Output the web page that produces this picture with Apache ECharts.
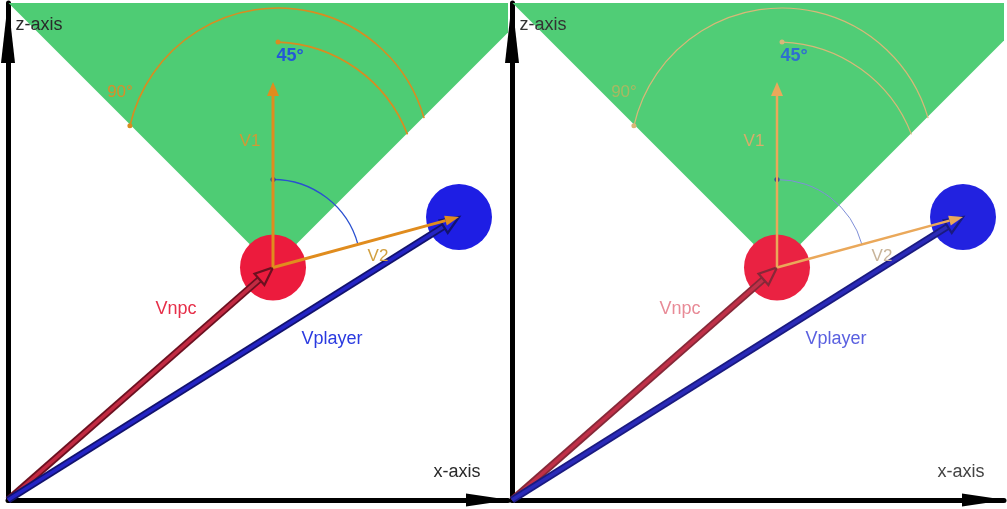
<!DOCTYPE html>
<html>
<head>
<meta charset="utf-8">
<script src="https://cdn.jsdelivr.net/npm/echarts@6/dist/echarts.min.js"></script>
<style>
  html, body { margin: 0; padding: 0; background: #fff; }
  #main { width: 1007px; height: 509px; }
</style>
</head>
<body>
<div id="main"></div>
<script>
// scene points, in axis units (x to the right, z up)
const origin = [0, 0];
const npc = [53, 46.5];
const player = [90.2, 56.6];
const v1Tip = [53, 83.6];
const coneHalfAngle = 45; // degrees each side of V1
const coneReach = 120;

// vectors
const vectorNames = ['Vnpc', 'Vplayer', 'V1', 'V2'];
const vectorFrom = [origin, origin, npc, npc];
const vectorTo = [npc, player, v1Tip, player];

// angle arcs: centre, radius, start and end angle (degrees)
const arcNames = ['90', '45', 'view'];
const arcCentres = [[54, 68], [53, 62.8], npc];
const arcRadii = [30.4, 28.8, 17.6];
const arcStart = [167, 88, 90];
const arcEnd = [16, 21, angleOf(npc, player)];

// texts
const labelText = ['z-axis', 'x-axis', '90°', '45°', 'V1', 'V2', 'Vnpc', 'Vplayer'];
const labelAt = [[6.2, 95], [89.8, 5.6], [22.4, 81.6], [56.4, 88.8], [48.4, 71.8], [74, 48.8], [33.6, 38.2], [64.8, 32.2]];

function angleOf(a, b) {
  return Math.atan2(b[1] - a[1], b[0] - a[0]) * 180 / Math.PI;
}

// left picture is crisp, right one is the washed out copy
const palettes = [
  {
    green: '#4ecc74', red: '#ec1b3d', blue: '#1e1ee4',
    orange: '#e08c1e', orangeWidth: 3,
    arc: '#d98c20', arcWidth: 1.6, viewArc: '#2a50d0', viewWidth: 1.3,
    npcOuter: '#6c1020', npcInner: '#c22a42',
    playerOuter: '#12126e', playerInner: '#2424c4',
    text: {
      'z-axis': '#2a2a2a', 'x-axis': '#2a2a2a', '90°': '#d88e2a', '45°': '#2458d8',
      'V1': '#cf9a36', 'V2': '#d2a040', 'Vnpc': '#e62e48', 'Vplayer': '#2a3ae0'
    }
  },
  {
    green: '#50cd76', red: '#ea2242', blue: '#2222e0',
    orange: '#eaa85a', orangeWidth: 2.5,
    arc: '#d8b878', arcWidth: 1.2, viewArc: '#7f8fd8', viewWidth: 1,
    npcOuter: '#862838', npcInner: '#c03048',
    playerOuter: '#1a1a80', playerInner: '#2a2ab8',
    text: {
      'z-axis': '#333', 'x-axis': '#444', '90°': '#a8b862', '45°': '#2f6fd0',
      'V1': '#d8ad6a', 'V2': '#c8b49a', 'Vnpc': '#e88a96', 'Vplayer': '#5a60e0'
    }
  }
];

const panels = [
  { left: 8, width: 500, xMax: 100 },
  { left: 512, width: 492, xMax: 98.4 }
];

function headPoints(p0, p1, len, wid) {
  const dx = p1[0] - p0[0], dy = p1[1] - p0[1];
  const l = Math.hypot(dx, dy), ux = dx / l, uy = dy / l;
  const base = [p1[0] - ux * len, p1[1] - uy * len];
  return {
    base: base,
    pts: [p1, [base[0] - uy * wid / 2, base[1] + ux * wid / 2], [base[0] + uy * wid / 2, base[1] - ux * wid / 2]]
  };
}

function axisStyle(size) {
  return {
    show: true,
    onZero: false,
    symbol: ['none', 'triangle'],
    symbolSize: size,
    symbolOffset: [0, -size[1] / 2 + 2],
    lineStyle: { color: '#000', width: 5 }
  };
}

const grid = [], xAxis = [], yAxis = [], series = [];

panels.forEach(function (p, i) {
  const pal = palettes[i];
  grid.push({ left: p.left, top: 3, width: p.width, height: 497, outerBoundsMode: 'none' });
  xAxis.push({
    gridIndex: i, type: 'value', min: 0, max: p.xMax,
    axisLine: axisStyle([13, 44]), axisTick: { show: false }, axisLabel: { show: false }, splitLine: { show: false }
  });
  yAxis.push({
    gridIndex: i, type: 'value', min: 0, max: 99.4,
    axisLine: axisStyle([14, 62]), axisTick: { show: false }, axisLabel: { show: false }, splitLine: { show: false }
  });

  // field of view cone
  series.push({
    type: 'custom', xAxisIndex: i, yAxisIndex: i, clip: true, z: 1, silent: true,
    data: [npc],
    renderItem: function (params, api) {
      const a = coneHalfAngle * Math.PI / 180;
      const apex = [api.value(0), api.value(1)];
      const pts = [
        apex,
        [apex[0] - Math.sin(a) * coneReach, apex[1] + Math.cos(a) * coneReach],
        [apex[0] + Math.sin(a) * coneReach, apex[1] + Math.cos(a) * coneReach]
      ].map(function (q) { return api.coord(q); });
      return { type: 'polygon', shape: { points: pts }, style: { fill: pal.green } };
    }
  });

  // npc and player
  series.push({
    type: 'scatter', xAxisIndex: i, yAxisIndex: i, z: 2, silent: true,
    symbolSize: 66,
    itemStyle: { opacity: 1 },
    data: [
      { value: npc, itemStyle: { color: pal.red } },
      { value: player, itemStyle: { color: pal.blue } }
    ]
  });

  // angle arcs
  series.push({
    type: 'custom', xAxisIndex: i, yAxisIndex: i, z: 3, silent: true,
    data: arcNames.map(function (n, k) {
      return [arcCentres[k][0], arcCentres[k][1], arcRadii[k], arcStart[k], arcEnd[k]];
    }),
    renderItem: function (params, api) {
      const k = params.dataIndex;
      const c = api.coord([api.value(0), api.value(1)]);
      const r = api.size([api.value(2), 0])[0];
      const a0 = api.value(3) * Math.PI / 180, a1 = api.value(4) * Math.PI / 180;
      const isView = arcNames[k] === 'view';
      const col = isView ? pal.viewArc : pal.arc;
      const dot = [c[0] + r * Math.cos(a0), c[1] - r * Math.sin(a0)];
      return {
        type: 'group',
        children: [
          {
            type: 'arc',
            shape: { cx: c[0], cy: c[1], r: r, startAngle: -a0, endAngle: -a1, clockwise: true },
            style: { stroke: col, lineWidth: isView ? pal.viewWidth : pal.arcWidth, fill: null }
          },
          {
            type: 'circle',
            shape: { cx: dot[0], cy: dot[1], r: 2.5 },
            style: { fill: isView ? '#1a3a9a' : pal.arc }
          }
        ]
      };
    }
  });

  // vectors
  series.push({
    type: 'custom', xAxisIndex: i, yAxisIndex: i, z: 4, silent: true,
    data: vectorNames.map(function (n, k) {
      return [vectorFrom[k][0], vectorFrom[k][1], vectorTo[k][0], vectorTo[k][1]];
    }),
    renderItem: function (params, api) {
      const name = vectorNames[params.dataIndex];
      const p0 = api.coord([api.value(0), api.value(1)]);
      const p1 = api.coord([api.value(2), api.value(3)]);
      if (name === 'V1' || name === 'V2') {
        const h = headPoints(p0, p1, 14, name === 'V1' ? 12 : 10);
        return {
          type: 'group',
          children: [
            { type: 'line', shape: { x1: p0[0], y1: p0[1], x2: h.base[0], y2: h.base[1] }, style: { stroke: pal.orange, lineWidth: pal.orangeWidth } },
            { type: 'polygon', shape: { points: h.pts }, style: { fill: pal.orange } }
          ]
        };
      }
      const outer = name === 'Vnpc' ? pal.npcOuter : pal.playerOuter;
      const inner = name === 'Vnpc' ? pal.npcInner : pal.playerInner;
      const h = headPoints(p0, p1, 18, 15);
      return {
        type: 'group',
        children: [
          { type: 'line', shape: { x1: p0[0], y1: p0[1], x2: h.base[0], y2: h.base[1] }, style: { stroke: outer, lineWidth: 7 } },
          { type: 'line', shape: { x1: p0[0], y1: p0[1], x2: h.base[0], y2: h.base[1] }, style: { stroke: inner, lineWidth: 3.5 } },
          { type: 'polygon', shape: { points: h.pts }, style: { fill: null, stroke: outer, lineWidth: 2.2, lineJoin: 'miter' } }
        ]
      };
    }
  });

  // texts
  series.push({
    type: 'scatter', xAxisIndex: i, yAxisIndex: i, z: 5, silent: true,
    symbolSize: 1,
    itemStyle: { color: 'transparent', opacity: 1 },
    data: labelText.map(function (t, k) {
      return {
        name: t, value: labelAt[k],
        label: {
          color: pal.text[t],
          fontWeight: t === '45°' ? 'bold' : 'normal',
          fontSize: t === '90°' || t === 'V1' || t === 'V2' ? 17 : 18
        }
      };
    }),
    label: {
      show: true, position: 'inside', formatter: '{b}',
      fontFamily: 'Liberation Sans, Arial, sans-serif'
    }
  });
});

const chart = echarts.init(document.getElementById('main'));
chart.setOption({
  animation: false,
  backgroundColor: '#fff',
  grid: grid,
  xAxis: xAxis,
  yAxis: yAxis,
  series: series
});
</script>
</body>
</html>
